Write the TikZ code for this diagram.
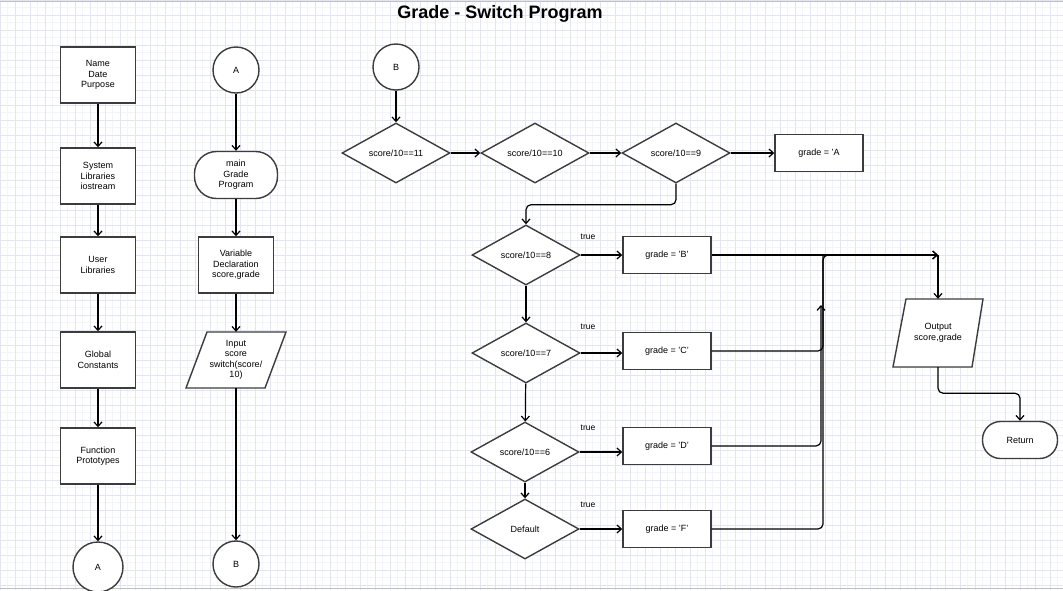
\documentclass[tikz,border=0pt]{standalone}
\usepackage{fontspec}
\setmainfont{Liberation Sans}
\usetikzlibrary{shapes.geometric,arrows.meta,calc}
\definecolor{shapeline}{HTML}{3C3C3C}
\definecolor{gridmajor}{HTML}{E4E4F7}
\definecolor{gridminor}{HTML}{F4F4FC}
\begin{document}
\begin{tikzpicture}[x=1pt, y=-1pt,
    every node/.style={font=\fontsize{9}{10.5}\selectfont, align=center},
    shapebase/.style={draw=shapeline, fill=white, line width=1.4pt},
    box/.style={shapebase, minimum width=75pt, minimum height=56pt, inner sep=1pt},
    gbox/.style={shapebase, minimum width=88pt, minimum height=37pt, inner sep=1pt},
    decision/.style={shapebase, diamond, aspect=1.8, minimum width=108pt, minimum height=60pt, inner sep=0pt},
    iotext/.style={minimum width=79pt, minimum height=56pt, inner sep=1pt},
    term/.style={shapebase, rounded corners=22pt, minimum width=83pt, minimum height=47pt},
    conn/.style={shapebase, circle, minimum size=46pt, inner sep=0pt},
    truelbl/.style={font=\fontsize{8.5}{10}\selectfont},
    flow/.style={draw=black, line width=1.2pt, -{Straight Barb[length=4.5pt,width=8pt]}},
    line/.style={draw=black, line width=1.2pt}]
  \useasboundingbox (0,0) rectangle (1063,590);
  % paper
  \fill[white] (0,0) rectangle (1063,590);
  \draw[gridminor, step=7.5pt] (0,0) grid (1063,590);
  \draw[gridmajor, step=15pt] (0,0) grid (1063,590);
  \draw[gray!50] (0,1) -- (1063,1);
  \draw[gray!50] (0,588) -- (1063,588);

  \node[font=\fontsize{18}{20}\selectfont\bfseries] (title) at (500,14) {Grade - Switch Program};

  % header column
  \node[box] (name) at (98,75) {Name\\Date\\Purpose};
  \node[box] (syslib) at (98,176) {System\\Libraries\\iostream};
  \node[box] (userlib) at (98,265) {User\\Libraries};
  \node[box] (globconst) at (98,360) {Global\\Constants};
  \node[box] (funcproto) at (98,456) {Function\\Prototypes};
  \node[conn, minimum size=50pt] (outA) at (98,567) {A};

  % main column
  \node[conn] (inA) at (236,70) {A};
  \node[term] (main) at (236,175) {main\\Grade\\Program};
  \node[box] (vardecl) at (236,265) {Variable\\Declaration\\score,grade};
  \coordinate (inputc) at (236,360);
  \draw[shapebase] ($(inputc)+(-50,28)$) -- ($(inputc)+(-29,-28)$)
    -- ($(inputc)+(50,-28)$) -- ($(inputc)+(29,28)$) -- cycle;
  \node[iotext] (input) at (inputc) {Input\\score\\switch(score/\\10)};
  \node[conn] (outB) at (236,564) {B};

  % switch
  \node[conn] (inB) at (396,67) {B};
  \node[decision] (d11) at (396,153) {score/10==11};
  \node[decision] (d10) at (535,153) {score/10==10};
  \node[decision] (d9) at (676,153) {score/10==9};
  \node[gbox] (gA) at (819,153) {grade = 'A};

  \node[decision] (d8) at (526,255) {score/10==8};
  \node[gbox] (gB) at (667,255) {grade = 'B'};
  \node[decision] (d7) at (526,353) {score/10==7};
  \node[gbox] (gC) at (667,351) {grade = 'C'};
  \node[decision] (d6) at (525,452) {score/10==6};
  \node[gbox] (gD) at (667,446) {grade = 'D'};
  \node[decision] (ddef) at (525,529) {Default};
  \node[gbox] (gF) at (667,529) {grade = 'F'};

  \node[truelbl] (tB) at (588,237) {true};
  \node[truelbl] (tC) at (588,327) {true};
  \node[truelbl] (tD) at (588,428) {true};
  \node[truelbl] (tF) at (588,505) {true};

  \coordinate (outputc) at (938,333);
  \draw[shapebase] ($(outputc)+(-45,34)$) -- ($(outputc)+(-32,-34)$)
    -- ($(outputc)+(45,-34)$) -- ($(outputc)+(34,34)$) -- cycle;
  \node[iotext, minimum width=77pt, minimum height=68pt] (output) at (outputc) {Output\\score,grade};
  \node[term, rounded corners=18pt, minimum width=75pt, minimum height=37pt] (ret) at (1020,440) {Return};

  \coordinate (join) at (output.north |- gB.east);
  \coordinate (bus) at (823,255);
  \coordinate (busD) at (821,305);

  % connectors
  \draw[flow] (name) -- (syslib);
  \draw[flow] (syslib) -- (userlib);
  \draw[flow] (userlib) -- (globconst);
  \draw[flow] (globconst) -- (funcproto);
  \draw[flow] (funcproto) -- (outA);

  \draw[flow] (inA) -- (main);
  \draw[flow] (main) -- (vardecl);
  \draw[flow] (vardecl) -- (input);
  \draw[flow] (input) -- (outB);

  \draw[flow] (inB) -- (d11);
  \draw[flow] (d11) -- (d10);
  \draw[flow] (d10) -- (d9);
  \draw[flow] (d9) -- (gA);
  \draw[flow, rounded corners=5pt] (d9.south) -- ++(0,21) -| (d8.north);
  \draw[flow] (d8) -- (d7);
  \draw[flow] (d7) -- (d6);
  \draw[flow] (d6) -- (ddef);

  \draw[flow] (d8.east) -- (d8.east -| gB.west);
  \draw[flow] (d7.east) -- (d7.east -| gC.west);
  \draw[flow] (d6.east) -- (d6.east -| gD.west);
  \draw[flow] (ddef.east) -- (ddef.east -| gF.west);

  \draw[flow] (gB.east) -- (join);
  \draw[flow, rounded corners=5pt] (gC.east) -| (bus) -- (join);
  \draw[flow, rounded corners=5pt] (gD.east) -| (busD);
  \draw[line, rounded corners=5pt] (gF.east) -| (bus);
  \draw[flow] (join) -- (output.north);
  \draw[flow, rounded corners=5pt] (output.south) -- ++(0,26) -| (ret.north);
\end{tikzpicture}
\end{document}
